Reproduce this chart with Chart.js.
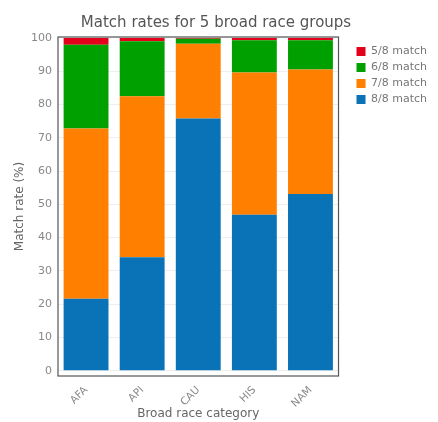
<!DOCTYPE html>
<html>
<head>
<meta charset="utf-8">
<script src="https://cdn.jsdelivr.net/npm/chart.js@4.4.1/dist/chart.umd.min.js"></script>
<style>
html,body{margin:0;padding:0;background:#fff;}
#wrap{width:438px;height:422px;}
</style>
</head>
<body>
<div id="wrap"><canvas id="c" width="438" height="422"></canvas></div>
<script>
const categories = ['AFA', 'API', 'CAU', 'HIS', 'NAM'];
const match8 = [21.6, 34.1, 75.8, 46.9, 53.1];
const match7 = [51.2, 48.4, 22.5, 42.7, 37.4];
const match6 = [25.2, 16.5, 1.5, 9.7, 8.8];
const match5 = [2.0, 1.0, 0.2, 0.7, 0.7];
const yTicks = [0, 10, 20, 30, 40, 50, 60, 70, 80, 90, 100];

const FONT = "'DejaVu Sans', Verdana, sans-serif";

const framePlugin = {
  id: 'frame',
  afterLayout(chart) {
    const lg = chart.legend;
    if (lg) {
      const dx = (chart.chartArea.right + 13) - lg.left;
      lg.left += dx; lg.right += dx;
      lg.top += 4; lg.bottom += 4;
    }
  },
  afterDraw(chart) {
    const a = chart.chartArea, ctx = chart.ctx;
    ctx.save();
    ctx.strokeStyle = '#555';
    ctx.lineWidth = 1.2;
    ctx.strokeRect(a.left, a.top, a.right - a.left, a.bottom - a.top);
    ctx.restore();
  }
};

new Chart(document.getElementById('c'), {
  type: 'bar',
  data: {
    labels: categories,
    datasets: [
      { label: '8/8 match', data: match8, backgroundColor: '#0a73b8' },
      { label: '7/8 match', data: match7, backgroundColor: '#ff7f00' },
      { label: '6/8 match', data: match6, backgroundColor: '#00a000' },
      { label: '5/8 match', data: match5, backgroundColor: '#e2001a' }
    ]
  },
  options: {
    responsive: false,
    animation: false,
    layout: { padding: { left: 8, right: 14, top: 4, bottom: 0 } },
    datasets: { bar: { categoryPercentage: 0.8, barPercentage: 1.0, borderWidth: 0 } },
    plugins: {
      title: {
        display: true,
        text: 'Match rates for 5 broad race groups',
        color: '#555',
        font: { family: FONT, size: 15, weight: 'normal' },
        padding: { top: 10, bottom: 5 }
      },
      legend: {
        position: 'right',
        align: 'start',
        fullSize: false,
        reverse: true,
        labels: {
          boxWidth: 9, boxHeight: 9, padding: 5,
          color: '#777',
          font: { family: FONT, size: 11 }
        }
      },
      tooltip: { enabled: false }
    },
    scales: {
      x: {
        stacked: true,
        afterFit(scale) { scale.height = 46; },
        grid: { display: false, drawTicks: false },
        border: { display: false },
        ticks: {
          color: '#888', font: { family: FONT, size: 10.5 },
          maxRotation: 45, minRotation: 45, padding: 8
        },
        title: {
          display: true, text: 'Broad race category', color: '#666',
          font: { family: FONT, size: 12 }, padding: { top: 0, bottom: 1 }
        }
      },
      y: {
        stacked: true,
        min: -1.6, max: 100.3,
        afterFit(scale) { scale.width = 50; },
        afterBuildTicks(scale) { scale.ticks = yTicks.map(v => ({ value: v })); },
        grid: { color: '#eeeeee', drawTicks: false },
        border: { display: false },
        ticks: { color: '#888', font: { family: FONT, size: 11 }, padding: 6 },
        title: {
          display: true, text: 'Match rate (%)', color: '#666',
          font: { family: FONT, size: 12 }, padding: { top: 5, bottom: 0 }
        }
      }
    }
  },
  plugins: [framePlugin]
});
</script>
</body>
</html>
